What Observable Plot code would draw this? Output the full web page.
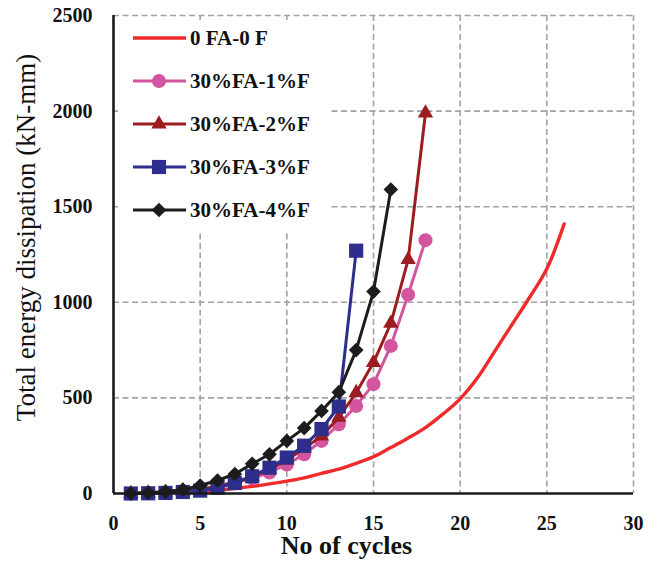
<!DOCTYPE html>
<html>
<head>
<meta charset="utf-8">
<script src="https://cdn.jsdelivr.net/npm/d3@7"></script>
<script src="https://cdn.jsdelivr.net/npm/@observablehq/plot@0.6"></script>
<style>
  body { margin: 0; background: white; }
  #wrap { position: relative; width: 660px; height: 564px; }
  #legend { position: absolute; left: 118px; top: 20px; width: 212px; height: 212px; background: white; }
</style>
</head>
<body>
<div id="wrap"><svg id="legend" width="212" height="212"></svg></div>
<script>
// ---- data ----
const ctrlValues = [0, 2, 4, 7, 11, 17, 26, 37, 50, 65, 82, 105, 128, 158, 192, 240, 290, 345, 415, 495, 605, 745, 885, 1025, 1175, 1410];
const fa1Values = [0, 2, 5, 10, 20, 35, 55, 80, 110, 152, 205, 275, 362, 458, 572, 772, 1040, 1325];
const fa2Values = [0, 2, 5, 12, 22, 38, 60, 88, 125, 175, 235, 300, 398, 527, 685, 890, 1223, 1990];
const fa3Values = [0, 1, 3, 8, 15, 30, 55, 90, 135, 188, 250, 337, 455, 1270];
const fa4Values = [0, 4, 10, 20, 42, 68, 102, 155, 205, 275, 342, 432, 530, 750, 1056, 1590];
const seriesNames = ["0 FA-0 F", "30%FA-1%F", "30%FA-2%F", "30%FA-3%F", "30%FA-4%F"];
const seriesColors = ["#EE2A2A", "#D4559F", "#9B1D21", "#2E2E8C", "#1C1C1C"];
const seriesSymbols = [null, "circle", "triangle", "square", "diamond2"];
const seriesR = [0, 7, 5.7, 8, 6.6];
const xTicks = [0, 5, 10, 15, 20, 25, 30];
const yTicks = [0, 500, 1000, 1500, 2000, 2500];
const xLabel = "No of cycles";
const yLabel = "Total energy dissipation (kN-mm)";

const allValues = [ctrlValues, fa1Values, fa2Values, fa3Values, fa4Values];
const series = allValues.map((vals, i) => vals.map((v, j) => ({cycle: j + 1, energy: v, name: seriesNames[i]})));

const font = "'Liberation Serif', 'Times New Roman', serif";
const grid = {stroke: "#A3A3A3", strokeOpacity: 1, strokeWidth: 1.6, strokeDasharray: "6,3.5"};

const marks = [
  Plot.gridX(xTicks.filter(t => t > 0), grid),
  Plot.gridY(yTicks.filter(t => t > 0), grid),
  Plot.axisX({ticks: xTicks, tickSize: 0, tickPadding: 22, tickFormat: d => String(d), label: null, fontSize: 20, fontWeight: "bold", fill: "#111"}),
  Plot.axisY({ticks: yTicks, tickSize: 0, tickPadding: 21, tickFormat: d => String(d), label: null, fontSize: 20, fontWeight: "bold", fill: "#111"}),
];
series.forEach((d, i) => {
  marks.push(Plot.line(d, {x: "cycle", y: "energy", stroke: seriesColors[i], strokeWidth: i === 0 ? 3.4 : 3, curve: i === 0 ? "catmull-rom" : "linear"}));
  if (seriesSymbols[i]) marks.push(Plot.dot(d, {x: "cycle", y: "energy", fill: seriesColors[i], symbol: seriesSymbols[i], r: seriesR[i], stroke: "none"}));
});
marks.push(
  Plot.ruleX([0], {stroke: "#1a1a1a", strokeWidth: 2.6}),
  Plot.ruleY([0], {stroke: "#1a1a1a", strokeWidth: 2.6}),
  Plot.text([yLabel], {text: d => d, frameAnchor: "left", textAnchor: "middle", dx: -87, dy: -17, rotate: -90, fontSize: 27, fill: "#111"}),
  Plot.text([xLabel], {text: d => d, frameAnchor: "bottom", textAnchor: "middle", dx: -27, dy: 60, fontSize: 26, fontWeight: "bold", fill: "#111"})
);

const chart = Plot.plot({
  width: 660, height: 564,
  marginLeft: 113, marginRight: 27, marginTop: 15, marginBottom: 71,
  x: {domain: [0, 30]},
  y: {domain: [0, 2500]},
  style: {fontFamily: font, background: "white", color: "#111"},
  marks
});
const wrap = document.getElementById("wrap");
wrap.insertBefore(chart, wrap.firstChild);

// ---- legend ----
const symMap = {circle: d3.symbolCircle, triangle: d3.symbolTriangle, square: d3.symbolSquare, diamond2: d3.symbolDiamond2};
const leg = d3.select("#legend");
seriesNames.forEach((name, i) => {
  const g = leg.append("g").attr("transform", `translate(0, ${18 + i * 43})`);
  g.append("line").attr("x1", 15).attr("x2", 68).attr("y1", 0).attr("y2", 0)
    .attr("stroke", seriesColors[i]).attr("stroke-width", i === 0 ? 3.4 : 3);
  if (seriesSymbols[i]) {
    g.append("path").attr("transform", "translate(41,0)")
      .attr("d", d3.symbol(symMap[seriesSymbols[i]], Math.PI * seriesR[i] * seriesR[i])())
      .attr("fill", seriesColors[i]);
  }
  g.append("text").attr("x", 72).attr("y", 0).attr("dy", "0.35em")
    .attr("font-family", font).attr("font-size", 21).attr("font-weight", "bold").attr("fill", "#111")
    .text(name);
});
wrap.appendChild(document.getElementById("legend"));
</script>
</body>
</html>
